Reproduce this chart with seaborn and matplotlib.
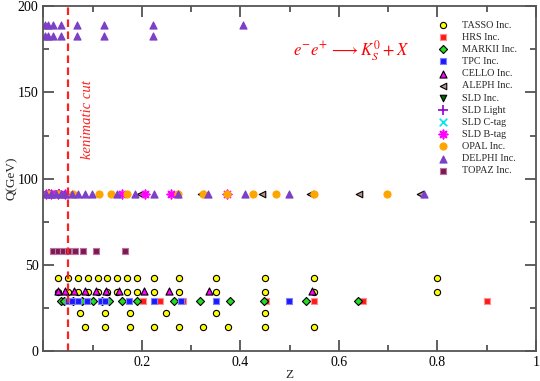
import numpy as np
import pandas as pd
import seaborn as sns
import matplotlib.pyplot as plt

# Q = centre-of-mass energy (GeV), Z = scaled momentum of the K0s
tasso_q = [14.0] * 9 + [22.0] * 6 + [34.5] * 15 + [42.6] * 15
tasso_z = [0.085, 0.125, 0.175, 0.225, 0.275, 0.325, 0.375, 0.45, 0.55,
           0.075, 0.125, 0.175, 0.25, 0.35, 0.45,
           0.03, 0.05, 0.07, 0.09, 0.11, 0.13, 0.15, 0.17, 0.19, 0.225, 0.275, 0.35, 0.45, 0.55, 0.8,
           0.03, 0.05, 0.07, 0.09, 0.11, 0.13, 0.15, 0.17, 0.19, 0.225, 0.275, 0.35, 0.45, 0.55, 0.8]
hrs_z = [0.055, 0.202, 0.237, 0.284, 0.452, 0.55, 0.649, 0.9]
markii_z = [0.035, 0.042, 0.061, 0.078, 0.100, 0.12, 0.134, 0.159, 0.191,
            0.265, 0.319, 0.379, 0.448, 0.534, 0.638]
tpc_z = [0.05, 0.058, 0.071, 0.088, 0.118, 0.125, 0.174, 0.225, 0.279, 0.350, 0.499]
cello_z = [0.03, 0.045, 0.062, 0.085, 0.106, 0.128, 0.154, 0.204, 0.255, 0.336, 0.545]
aleph_z = [0.035, 0.196, 0.321, 0.443, 0.541, 0.641, 0.764]
sld_inc_z = [0.01, 0.02, 0.03]
sld_light_z = [0.012, 0.032]
sld_c_z = [0.022, 0.042]
sld_b_z = [0.005, 0.015, 0.03, 0.045, 0.16, 0.207, 0.259, 0.373]
opal_z = [0.01, 0.03, 0.06, 0.114, 0.137, 0.17, 0.274, 0.325, 0.372, 0.425, 0.473, 0.55, 0.698]
delphi91_z = [0.005, 0.015, 0.025, 0.035, 0.045, 0.058, 0.071, 0.085, 0.098, 0.149,
              0.186, 0.225, 0.274, 0.335, 0.409, 0.499, 0.772]
delphi183_z = [0.003, 0.010, 0.020, 0.036, 0.068, 0.123, 0.222]
delphi189_z = [0.003, 0.010, 0.020, 0.036, 0.068, 0.123, 0.222, 0.406]
topaz_z = [0.02, 0.03, 0.04, 0.05, 0.065, 0.08, 0.107, 0.166]

delphi_z = delphi91_z + delphi183_z + delphi189_z
delphi_q = [91.2] * len(delphi91_z) + [183.0] * len(delphi183_z) + [189.0] * len(delphi189_z)

# name, z, Q, marker, face, edge, size
series = [
    ("TASSO Inc.", tasso_z, tasso_q, "o", "#ffff00", "black", 20),
    ("HRS Inc.", hrs_z, [29.0] * len(hrs_z), "s", "#ff1a1a", "#ff9090", 20),
    ("MARKII Inc.", markii_z, [29.0] * len(markii_z), "D", "#22dd22", "black", 17),
    ("TPC Inc.", tpc_z, [29.0] * len(tpc_z), "s", "#1a1aff", "#8080ff", 20),
    ("CELLO Inc.", cello_z, [35.0] * len(cello_z), "^", "#ff00ff", "black", 26),
    ("ALEPH Inc.", aleph_z, [91.2] * len(aleph_z), "<", "#bc8f8f", "black", 22),
    ("SLD Inc.", sld_inc_z, [91.2] * len(sld_inc_z), "v", "#006400", "black", 22),
    ("SLD Light", sld_light_z, [91.2] * len(sld_light_z), "+", "#9400d3", None, 44),
    ("SLD C-tag", sld_c_z, [91.2] * len(sld_c_z), "x", "#00e5ee", None, 30),
    ("SLD B-tag", sld_b_z, [91.2] * len(sld_b_z), (8, 2, 0), "#ff00ff", None, 36),
    ("OPAL Inc.", opal_z, [91.2] * len(opal_z), "o", "#ffa500", "#ffa500", 26),
    ("DELPHI Inc.", delphi_z, delphi_q, "^", "#7b3fc8", "#7b3fc8", 26),
    ("TOPAZ Inc.", topaz_z, [58.0] * len(topaz_z), "s", "#7a1a50", "#c070a0", 22),
]

sns.set_style("ticks")
plt.rcParams["font.family"] = ["Liberation Serif", "DejaVu Serif"]
plt.rcParams["mathtext.fontset"] = "stix"

fig = plt.figure(figsize=(5.4, 3.81), dpi=100)
ax = fig.add_axes([0.0802, 0.0787, 0.9124, 0.905])

for name, zs, qs, mk, fc, ec, s in series:
    df = pd.DataFrame({"Z": zs, "Q": qs})
    if ec is None:
        sns.scatterplot(data=df, x="Z", y="Q", marker=mk, color=fc, s=s,
                        linewidth=1.2, label=name, ax=ax)
    else:
        sns.scatterplot(data=df, x="Z", y="Q", marker=mk, color=fc, edgecolor=ec,
                        s=s, linewidth=0.8, label=name, ax=ax)

ax.axvline(0.05, color="#ff2020", lw=1.6, ls=(0, (3.4, 2.0)))
ax.text(0.09, 134, "kenimatic cut", rotation=90, color="#ff2020", fontsize=10.5,
        style="italic", ha="center", va="center")
ax.text(0.507, 174, r"$e^{-}e^{+}\,\longrightarrow K_S^{0} + X$", color="#ff0000",
        fontsize=12, ha="left", va="center")

ax.set_xlim(0, 1)
ax.set_ylim(0, 200)
ax.set_xticks([0, 0.2, 0.4, 0.6, 0.8, 1.0])
ax.set_xticklabels(["", "0.2", "0.4", "0.6", "0.8", "1"])
ax.set_xticks(np.arange(0.1, 1.0, 0.2), minor=True)
ax.set_yticks([0, 50, 100, 150, 200])
ax.set_yticks([25, 75, 125, 175], minor=True)
ax.tick_params(which="both", direction="in", top=True, right=True,
               labelsize=10, colors="#444444", labelcolor="black")
ax.tick_params(which="major", length=8, width=1.2)
ax.tick_params(which="minor", length=4.5, width=1.2)
for sp in ax.spines.values():
    sp.set_linewidth(1.3)
    sp.set_color("#555555")

ax.set_xlabel("Z", fontsize=9.5, labelpad=0)
ax.set_ylabel("Q(GeV)", fontsize=9.5, labelpad=0)

ax.legend(loc="upper left", bbox_to_anchor=(0.782, 0.97), frameon=False,
          fontsize=7.3, labelspacing=0.3, handletextpad=0.9, borderaxespad=0,
          markerscale=1.0)

fig.savefig("out.png", dpi=100)
